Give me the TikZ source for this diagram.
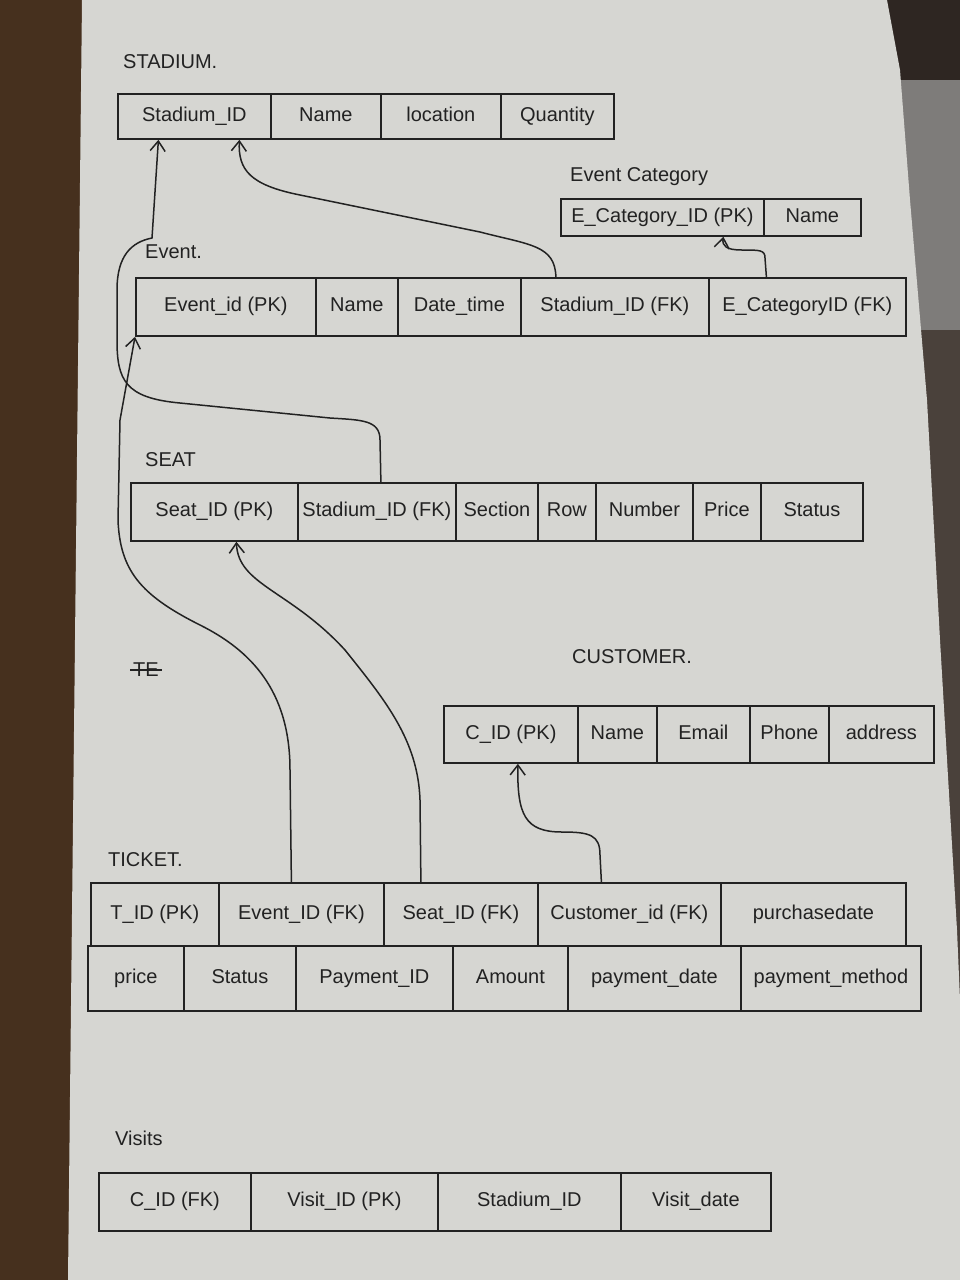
\documentclass[tikz,border=0pt]{standalone}
\usepackage{fontspec}
\setmainfont{Liberation Sans}
\usetikzlibrary{arrows.meta}
\definecolor{inkc}{HTML}{222222}
\definecolor{paperc}{HTML}{D6D6D2}
\definecolor{woodc}{HTML}{46301E}
\definecolor{darkc}{HTML}{2E2622}
\definecolor{silverc}{HTML}{7E7C7A}
\definecolor{shadec}{HTML}{4A413B}
\newcommand\ercell[6]{\node[cell, minimum width={#3-#2}, minimum height={#5-#4}] (#1) at (#2,#4) {#6};}
\tikzset{
  cell/.style={draw=inkc, line width=1.8pt, anchor=north west, inner sep=0pt,
    font=\fontsize{20}{22}\selectfont, text=inkc, text height=14pt, text depth=4pt},
  tabtitle/.style={anchor=west, inner sep=0pt, font=\fontsize{20}{22}\selectfont, text=inkc},
  fk/.style={draw=inkc, line width=1.5pt, -{Straight Barb[length=10pt,width=15pt]}},
  strike/.style={draw=inkc, line width=1.6pt}
}
\begin{document}
\begin{tikzpicture}[x=1pt,y=-1pt]
\useasboundingbox (0,0) rectangle (960,1280);
% background photo surroundings
\fill[woodc] (0,0) rectangle (960,1280);
\fill[darkc] (880,0) rectangle (960,80);
\fill[silverc] (895,80) rectangle (960,330);
\fill[shadec] (910,330) rectangle (960,1000);
% paper
\fill[paperc] (82,0) -- (887,0) -- (900,70) -- (910,200) -- (927,400) -- (940,640)
  -- (957,930) -- (960,1000) -- (960,1280) -- (68,1280) -- (75,640) -- cycle;

% ---------- STADIUM ----------
\node[tabtitle] (tstadium) at (123,62) {STADIUM.};
\ercell{st1}{117}{270}{93}{138}{Stadium\_ID}
\ercell{st2}{270}{380}{93}{138}{Name}
\ercell{st3}{380}{500}{93}{138}{location}
\ercell{st4}{500}{613}{93}{138}{Quantity}

% ---------- EVENT CATEGORY ----------
\node[tabtitle] (tecat) at (570,177) {Event Category};
\ercell{ec1}{560}{763}{198}{235}{E\_Category\_ID (PK)}
\ercell{ec2}{763}{860}{198}{235}{Name}

% ---------- EVENT ----------
\node[tabtitle] (tevent) at (145,252) {Event.};
\ercell{ev1}{135}{315}{277}{335}{Event\_id (PK)}
\ercell{ev2}{315}{397}{277}{335}{Name}
\ercell{ev3}{397}{520}{277}{335}{Date\_time}
\ercell{ev4}{520}{708}{277}{335}{Stadium\_ID (FK)}
\ercell{ev5}{708}{905}{277}{335}{E\_CategoryID (FK)}

% ---------- SEAT ----------
\node[tabtitle] (tseat) at (145,460) {SEAT};
\ercell{sb1}{130}{297}{482}{540}{Seat\_ID (PK)}
\ercell{sb2}{297}{455}{482}{540}{Stadium\_ID (FK)}
\ercell{sb3}{455}{537}{482}{540}{Section}
\ercell{sb4}{537}{595}{482}{540}{Row}
\ercell{sb5}{595}{692}{482}{540}{Number}
\ercell{sb6}{692}{760}{482}{540}{Price}
\ercell{sb7}{760}{862}{482}{540}{Status}

% struck-out text
\node[tabtitle] (te) at (133,670) {TE};
\draw[strike] ([xshift=-3pt]te.west) -- ([xshift=3pt]te.east);

% ---------- CUSTOMER ----------
\node[tabtitle] (tcust) at (572,657) {CUSTOMER.};
\ercell{cu1}{443}{577}{705}{762}{C\_ID (PK)}
\ercell{cu2}{577}{656}{705}{762}{Name}
\ercell{cu3}{656}{749}{705}{762}{Email}
\ercell{cu4}{749}{828}{705}{762}{Phone}
\ercell{cu5}{828}{933}{705}{762}{address}

% ---------- TICKET ----------
\node[tabtitle] (tticket) at (108,860) {TICKET.};
\ercell{t1}{90}{218}{882}{945}{T\_ID (PK)}
\ercell{t2}{218}{383}{882}{945}{Event\_ID (FK)}
\ercell{t3}{383}{537}{882}{945}{Seat\_ID (FK)}
\ercell{t4}{537}{720}{882}{945}{Customer\_id (FK)}
\ercell{t5}{720}{905}{882}{945}{purchasedate}
\ercell{u1}{87}{183}{945}{1010}{price}
\ercell{u2}{183}{295}{945}{1010}{Status}
\ercell{u3}{295}{452}{945}{1010}{Payment\_ID}
\ercell{u4}{452}{567}{945}{1010}{Amount}
\ercell{u5}{567}{740}{945}{1010}{payment\_date}
\ercell{u6}{740}{920}{945}{1010}{payment\_method}

% ---------- VISITS ----------
\node[tabtitle] (tvisits) at (115,1138) {Visits};
\ercell{vi1}{98}{250}{1172}{1230}{C\_ID (FK)}
\ercell{vi2}{250}{437}{1172}{1230}{Visit\_ID (PK)}
\ercell{vi3}{437}{620}{1172}{1230}{Stadium\_ID}
\ercell{vi4}{620}{770}{1172}{1230}{Visit\_date}

% ---------- connectors ----------
% Event.Stadium_ID -> Stadium.Stadium_ID
\draw[fk] ([xshift=-59pt]ev4.north) .. controls (555,245) and (530,245) .. (480,232)
  -- (300,195) .. controls (250,185) and (238,170) .. ([xshift=45pt]st1.south);
% Event.E_CategoryID -> EventCategory.E_Category_ID
\draw[fk] ([xshift=-41pt]ev5.north) -- (765,258) .. controls (765,250) and (760,250) .. (742,250)
  .. controls (726,250) and (722,246) .. ([xshift=61pt]ec1.south);
% Seat.Stadium_ID -> Stadium.Stadium_ID
\draw[fk] ([xshift=4pt]sb2.north) -- (380,440) .. controls (380,420) and (362,420) .. (330,418)
  -- (180,403) .. controls (125,398) and (117,380) .. (117,340) -- (117,290)
  .. controls (117,255) and (132,242) .. (152,238) -- ([xshift=-36pt]st1.south);
% Ticket.Event_ID -> Event.Event_id
\draw[fk] ([xshift=-10pt]t2.north) -- (290,770) .. controls (290,690) and (250,650) .. (200,625)
  .. controls (140,595) and (120,570) .. (118,520) -- (120,420) -- (ev1.south west);
% Ticket.Seat_ID -> Seat.Seat_ID
\draw[fk] ([xshift=-40pt]t3.north) -- (420,800) .. controls (418,740) and (385,700) .. (345,650)
  .. controls (290,590) and (238,585) .. ([xshift=22pt]sb1.south);
% Ticket.Customer_id -> Customer.C_ID
\draw[fk] ([xshift=-28pt]t4.north) -- (600,855) .. controls (600,835) and (590,832) .. (562,832)
  .. controls (525,832) and (517,815) .. ([xshift=7pt]cu1.south);
\end{tikzpicture}
\end{document}
